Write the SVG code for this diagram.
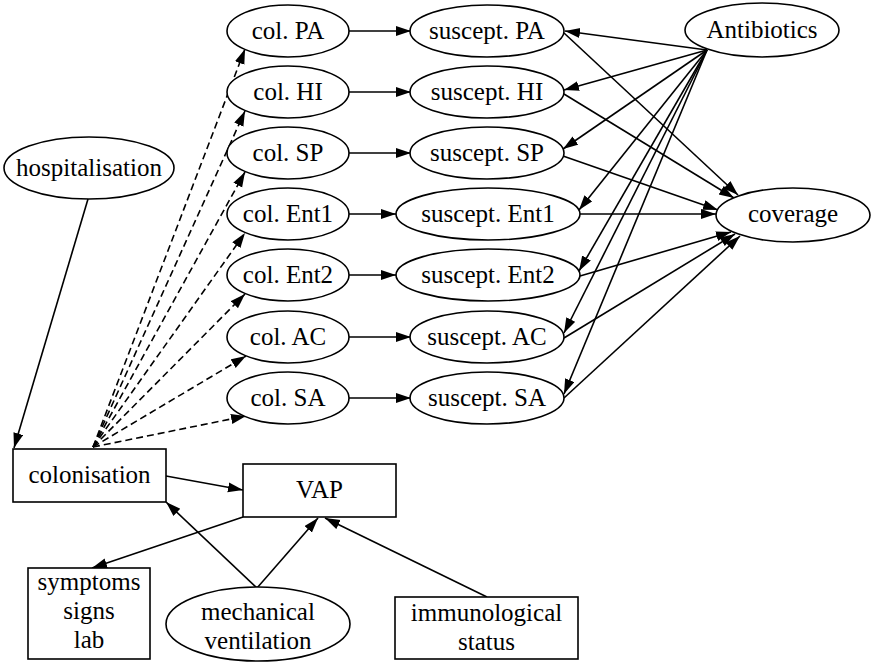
<svg xmlns="http://www.w3.org/2000/svg" width="871" height="663" viewBox="0 0 871 663">
<defs>
<marker id="ah" markerWidth="16" markerHeight="11" refX="15" refY="5" orient="auto" markerUnits="userSpaceOnUse"><path d="M0,0 L15,5 L0,10 z" fill="#000"/></marker>
<style>
.n ellipse,.n rect{fill:#fff;stroke:#000;stroke-width:1.6}
.n text{font-family:"Liberation Serif","Times New Roman",serif;font-size:25px;text-anchor:middle;fill:#000}
#edges line{stroke:#000;stroke-width:1.6;fill:none;marker-end:url(#ah)}
#edges line.d{stroke-dasharray:7,4}
</style>
</defs>
<rect width="871" height="663" fill="#fff"/>
<g id="edges">
<line x1="88" y1="199" x2="14" y2="448"/>
<line class="d" x1="93" y1="447" x2="245" y2="49"/>
<line class="d" x1="93" y1="447" x2="245" y2="111"/>
<line class="d" x1="93" y1="447" x2="245" y2="172"/>
<line class="d" x1="93" y1="447" x2="245" y2="233"/>
<line class="d" x1="93" y1="447" x2="245" y2="294"/>
<line class="d" x1="93" y1="447" x2="246" y2="356"/>
<line class="d" x1="93" y1="447" x2="246" y2="416"/>
<line x1="349" y1="31" x2="411" y2="31"/>
<line x1="349" y1="92" x2="411" y2="92"/>
<line x1="349" y1="153" x2="411" y2="153"/>
<line x1="349" y1="214" x2="396" y2="214"/>
<line x1="349" y1="275" x2="396" y2="275"/>
<line x1="349" y1="337" x2="411" y2="337"/>
<line x1="349" y1="398" x2="411" y2="398"/>
<line x1="707" y1="50" x2="565" y2="31"/>
<line x1="707" y1="50" x2="564" y2="90"/>
<line x1="707" y1="50" x2="563" y2="149"/>
<line x1="707" y1="50" x2="579" y2="210"/>
<line x1="707" y1="50" x2="579" y2="271"/>
<line x1="707" y1="50" x2="564" y2="333"/>
<line x1="707" y1="50" x2="564" y2="394"/>
<line x1="564" y1="33" x2="738" y2="195"/>
<line x1="564" y1="94" x2="734" y2="198"/>
<line x1="563" y1="156" x2="718" y2="210"/>
<line x1="580" y1="214" x2="716" y2="214"/>
<line x1="580" y1="276" x2="731" y2="232"/>
<line x1="564" y1="338" x2="735" y2="234"/>
<line x1="564" y1="398" x2="740" y2="236"/>
<line x1="166" y1="476" x2="243" y2="490"/>
<line x1="243" y1="517" x2="92" y2="568"/>
<line x1="257" y1="588" x2="166" y2="502"/>
<line x1="257" y1="588" x2="318" y2="518"/>
<line x1="487" y1="597" x2="325" y2="518"/>
</g>
<g id="hospitalisation" class="n"><ellipse cx="89" cy="168" rx="85" ry="31"/><text x="89" y="176">hospitalisation</text></g>
<g id="colonisation" class="n"><rect x="13" y="449" width="153" height="53"/><text x="89.5" y="483">colonisation</text></g>
<g id="col_PA" class="n"><ellipse cx="288" cy="31" rx="61" ry="26"/><text x="288" y="39">col. PA</text></g>
<g id="col_HI" class="n"><ellipse cx="288" cy="92" rx="61" ry="26"/><text x="288" y="100">col. HI</text></g>
<g id="col_SP" class="n"><ellipse cx="288" cy="153" rx="61" ry="26"/><text x="288" y="161">col. SP</text></g>
<g id="col_Ent1" class="n"><ellipse cx="288" cy="214" rx="61" ry="26"/><text x="288" y="222">col. Ent1</text></g>
<g id="col_Ent2" class="n"><ellipse cx="288" cy="275" rx="61" ry="26"/><text x="288" y="283">col. Ent2</text></g>
<g id="col_AC" class="n"><ellipse cx="288" cy="337" rx="61" ry="26"/><text x="288" y="345">col. AC</text></g>
<g id="col_SA" class="n"><ellipse cx="288" cy="398" rx="61" ry="26"/><text x="288" y="406">col. SA</text></g>
<g id="sus_PA" class="n"><ellipse cx="487" cy="31" rx="77" ry="26"/><text x="487" y="39">suscept. PA</text></g>
<g id="sus_HI" class="n"><ellipse cx="487" cy="92" rx="77" ry="26"/><text x="487" y="100">suscept. HI</text></g>
<g id="sus_SP" class="n"><ellipse cx="487" cy="153" rx="77" ry="26"/><text x="487" y="161">suscept. SP</text></g>
<g id="sus_Ent1" class="n"><ellipse cx="488" cy="214" rx="92" ry="26"/><text x="488" y="222">suscept. Ent1</text></g>
<g id="sus_Ent2" class="n"><ellipse cx="488" cy="275" rx="92" ry="26"/><text x="488" y="283">suscept. Ent2</text></g>
<g id="sus_AC" class="n"><ellipse cx="487" cy="337" rx="77" ry="26"/><text x="487" y="345">suscept. AC</text></g>
<g id="sus_SA" class="n"><ellipse cx="487" cy="398" rx="77" ry="26"/><text x="487" y="406">suscept. SA</text></g>
<g id="antibiotics" class="n"><ellipse cx="762" cy="30" rx="77" ry="27"/><text x="762" y="38">Antibiotics</text></g>
<g id="coverage" class="n"><ellipse cx="793" cy="215" rx="77" ry="27"/><text x="793" y="222">coverage</text></g>
<g id="VAP" class="n"><rect x="243" y="464" width="153" height="53"/><text x="319.5" y="498">VAP</text></g>
<g id="symptoms" class="n"><rect x="28" y="568" width="122" height="91"/><text x="89" y="590">symptoms</text><text x="89" y="619">signs</text><text x="89" y="648">lab</text></g>
<g id="mechanical_ventilation" class="n"><ellipse cx="258" cy="624" rx="92" ry="37"/><text x="258" y="620">mechanical</text><text x="258" y="649">ventilation</text></g>
<g id="immunological_status" class="n"><rect x="395" y="597" width="183" height="62"/><text x="486.5" y="621">immunological</text><text x="486.5" y="650">status</text></g>
</svg>
